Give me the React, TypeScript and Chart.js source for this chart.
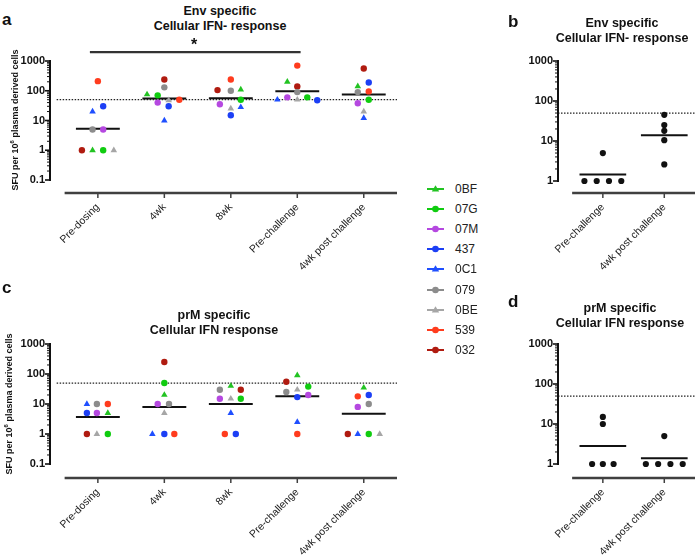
import React, { useEffect, useRef } from "react";
import { Chart, registerables } from "chart.js";

Chart.register(...registerables);

const FONT = '"Liberation Sans", Arial, Helvetica, sans-serif';

// ---------- categories ----------
const timepoints = ["Pre-dosing", "4wk", "8wk", "Pre-challenge", "4wk post challenge"];
const challengeTimepoints = ["Pre-challenge", "4wk post challenge"];
const animals = ["0BF", "07G", "07M", "437", "0C1", "079", "0BE", "539", "032"];
const animalColors = ["#22c322", "#10cc10", "#b548e0", "#1c3ff5", "#1f4fff", "#8c8c8c", "#a6a6a6", "#ff3c1e", "#b01b10"];
const animalShapes = ["triangle", "circle", "circle", "circle", "triangle", "circle", "triangle", "circle", "circle"];

// ---------- panel a: Env specific (values per animal across timepoints) ----------
const env0BF = [1, 75, 110, 200, 140];
const env07G = [1, 70, 50, 60, 50];
const env07M = [5, 40, 35, 60, 38];
const env437 = [30, 30, 15, 48, 190];
const env0C1 = [20, 10, 28, 50, 12];
const env079 = [5, 130, 100, 90, 90];
const env0BE = [1, 48, 25, 50, 20];
const env539 = [210, 50, 240, 700, 95];
const env032 = [1, 240, 105, 140, 560];
const envMeans = [5.3, 55, 56, 97, 75];

// ---------- panel c: prM specific ----------
const prm0BF = [5, 20, 40, 90, 35];
const prm07G = [1, 50, 15, 38, 1];
const prm07M = [5, 10, 15, 20, 8];
const prm437 = [5, 1, 1, 17, 20];
const prm0C1 = [10, 1, 5, 2.5, 1];
const prm079 = [10, 10, 30, 25, 10];
const prm0BE = [1, 5, 15, 30, 1];
const prm539 = [10, 1, 1, 1, 18];
const prm032 = [1, 250, 30, 55, 1];
const prmMeans = [3.7, 8, 10, 18, 4.7];

// ---------- panels b / d: challenge group ----------
const envChallengePre = [1, 1, 1, 1, 5];
const envChallengePost = [45, 25, 18, 10.5, 2.6];
const envChallengeMeans = [1.45, 14];
const prmChallengePre = [15, 10, 1, 1, 1];
const prmChallengePost = [5, 1, 1, 1, 1];
const prmChallengeMeans = [2.8, 1.4];

const threshold = 50;
const significanceLevel = 2000;
const yTicksMain = [0.1, 1, 10, 100, 1000];
const yTicksChallenge = [1, 10, 100, 1000];

// ---------- layout: horizontal scatter offsets (category units) ----------
const envJitter = [
  [-0.08, 0.08, 0.08, 0.08, -0.08, -0.08, 0.24, 0, -0.24],
  [-0.26, -0.1, -0.1, 0.065, 0, 0, 0.065, 0.225, 0],
  [0.15, 0.15, -0.165, 0, 0.15, 0, 0, 0, -0.2],
  [-0.15, 0.15, -0.15, 0.3, -0.3, 0, 0, 0, 0],
  [-0.09, 0.075, -0.09, 0.075, 0, -0.09, 0, 0.075, 0],
];
const prmJitter = [
  [0.15, 0.15, -0.015, -0.165, -0.165, -0.015, -0.015, 0.15, -0.165],
  [0, 0, -0.1, 0, -0.18, 0.07, 0, 0.15, 0],
  [0, 0.15, -0.165, 0.075, 0, -0.165, 0, -0.09, 0.15],
  [0, 0.165, 0.165, 0, 0, -0.165, 0, 0, -0.165],
  [0, 0.075, -0.09, 0.075, -0.09, 0.075, 0.24, -0.09, -0.24],
];
const envChalJitter = [[-0.3, -0.1, 0.1, 0.3, 0], [0, 0, 0, 0, 0]];
const prmChalJitter = [[0, 0, -0.175, 0, 0.175], [0, -0.3, -0.1, 0.1, 0.3]];

// ---------- helpers ----------
function groupDatasets(series: number[][], jitter: number[][]) {
  return animals.map((name, a) => ({
    label: name,
    data: series[a].map((v, t) => ({ x: t + jitter[t][a], y: v })),
    pointStyle: animalShapes[a],
    pointRadius: animalShapes[a] === "triangle" ? 3.8 : 3.2,
    backgroundColor: animalColors[a],
    borderColor: animalColors[a],
    borderWidth: 0,
    showLine: false,
  }));
}

function blackDots(pre: number[], post: number[], jitter: number[][]) {
  return {
    label: "animals",
    data: [
      ...pre.map((v, i) => ({ x: 0 + jitter[0][i], y: v })),
      ...post.map((v, i) => ({ x: 1 + jitter[1][i], y: v })),
    ],
    pointStyle: "circle",
    pointRadius: 3.1,
    backgroundColor: "#111",
    borderColor: "#111",
    borderWidth: 0,
    showLine: false,
  };
}

function meanLines(means: number[], half: number) {
  const pts: any[] = [];
  means.forEach((m, t) => {
    pts.push({ x: t - half, y: m }, { x: t + half, y: m }, { x: t + half, y: null });
  });
  return {
    label: "mean",
    data: pts,
    showLine: true,
    spanGaps: false,
    borderColor: "#111",
    borderWidth: 2,
    pointRadius: 0,
    borderCapStyle: "butt",
  };
}

function hLine(from: number, to: number, y: number, extra: any) {
  return {
    label: "line",
    data: [{ x: from, y }, { x: to, y }],
    showLine: true,
    pointRadius: 0,
    ...extra,
  };
}

type PanelSpec = {
  left: number;
  top: number;
  w: number;
  h: number;
  areaLeft: number;
  areaTop: number;
  areaRight: number;
  areaBottom: number;
  labels: string[];
  xMin: number;
  xMax: number;
  yMin: number;
  yMax: number;
  yTicks: number[];
  datasets: any[];
};

function makeAxesPlugin(s: PanelSpec) {
  const yFrom = s.yTicks[0];
  const yTo = s.yTicks[s.yTicks.length - 1];
  const count = s.labels.length;
  return {
    id: "gpAxes",
    afterDraw(chart: any) {
      const { ctx, chartArea } = chart;
      const x = chart.scales.x;
      const y = chart.scales.y;
      const line = (x1: number, y1: number, x2: number, y2: number) => {
        ctx.beginPath();
        ctx.moveTo(x1, y1);
        ctx.lineTo(x2, y2);
        ctx.stroke();
      };
      ctx.save();
      ctx.setLineDash([]);
      ctx.lineCap = "butt";
      const ax = x.getPixelForValue(s.xMin);
      const yT = y.getPixelForValue(yTo);
      const yB = y.getPixelForValue(yFrom);
      ctx.strokeStyle = "#111";
      ctx.lineWidth = 2;
      line(ax, yT - 1, ax, yB + 1);
      const k0 = Math.round(Math.log10(yFrom));
      const k1 = Math.round(Math.log10(yTo));
      for (let k = k0; k <= k1; k++) {
        const d = Math.pow(10, k);
        const py = y.getPixelForValue(d);
        ctx.lineWidth = 1.6;
        line(ax - 5, py, ax, py);
        if (k < k1) {
          ctx.lineWidth = 1;
          for (let m = 2; m <= 9; m++) {
            const pm = y.getPixelForValue(d * m);
            line(ax - 3, pm, ax, pm);
          }
        }
      }
      ctx.strokeStyle = "#404040";
      ctx.lineWidth = 2.5;
      const b = chartArea.bottom;
      line(x.getPixelForValue(-0.5), b, x.getPixelForValue(count - 0.5), b);
      ctx.lineWidth = 1.5;
      for (let i = 0; i < count; i++) {
        const px = x.getPixelForValue(i);
        line(px, b, px, b + 5);
      }
      ctx.restore();
    },
  };
}

function buildConfig(s: PanelSpec): any {
  return {
    type: "scatter",
    data: { datasets: s.datasets },
    options: {
      responsive: false,
      animation: false,
      events: [],
      layout: { padding: { left: 0, top: s.areaTop, right: s.w - s.areaRight, bottom: 0 } },
      plugins: {
        legend: { display: false },
        tooltip: { enabled: false },
        title: { display: false },
      },
      scales: {
        x: {
          type: "linear",
          min: s.xMin,
          max: s.xMax,
          bounds: "data",
          grid: { display: false, drawTicks: false, tickLength: 0 },
          border: { display: false },
          afterBuildTicks: (sc: any) => {
            sc.ticks = s.labels.map((_, i) => ({ value: i }));
          },
          afterFit: (sc: any) => {
            sc.height = s.h - s.areaBottom;
          },
          ticks: {
            autoSkip: false,
            minRotation: 45,
            maxRotation: 45,
            padding: 8,
            color: "#222",
            font: { family: FONT, size: 10.5 },
            callback: (v: any) => s.labels[Math.round(Number(v))] ?? "",
          },
        },
        y: {
          type: "logarithmic",
          min: s.yMin,
          max: s.yMax,
          bounds: "data",
          grid: { display: false, drawTicks: false, tickLength: 0 },
          border: { display: false },
          afterBuildTicks: (sc: any) => {
            sc.ticks = s.yTicks.map((v) => ({ value: v }));
          },
          afterFit: (sc: any) => {
            sc.width = s.areaLeft;
          },
          ticks: {
            autoSkip: false,
            padding: 5,
            color: "#111",
            font: { family: FONT, size: 11, weight: "bold" },
            callback: (v: any) => String(v),
          },
        },
      },
    },
    plugins: [makeAxesPlugin(s)],
  };
}

function Panel(props: { spec: PanelSpec }) {
  const ref = useRef<HTMLCanvasElement>(null);
  const s = props.spec;
  useEffect(() => {
    const chart = new Chart(ref.current as HTMLCanvasElement, buildConfig(s));
    return () => chart.destroy();
  }, []);
  return (
    <canvas
      ref={ref}
      width={s.w}
      height={s.h}
      style={{ position: "absolute", left: s.left, top: s.top, width: s.w, height: s.h }}
    />
  );
}

function Title(props: { cx: number; top: number; lines: string[] }) {
  return (
    <div
      style={{
        position: "absolute",
        left: props.cx - 110,
        top: props.top,
        width: 220,
        textAlign: "center",
        font: `bold 12.5px ${FONT}`,
        lineHeight: "15px",
        color: "#111",
        whiteSpace: "nowrap",
      }}
    >
      {props.lines.map((l, i) => (
        <div key={i}>{l}</div>
      ))}
    </div>
  );
}

function Letter(props: { left: number; top: number; text: string }) {
  return (
    <div
      style={{
        position: "absolute",
        left: props.left,
        top: props.top,
        font: `bold 17px ${FONT}`,
        lineHeight: "17px",
        color: "#111",
      }}
    >
      {props.text}
    </div>
  );
}

function YLabel(props: { cx: number; cy: number }) {
  return (
    <div
      style={{
        position: "absolute",
        left: props.cx,
        top: props.cy,
        transform: "translate(-50%, -50%) rotate(-90deg)",
        font: `bold 9px ${FONT}`,
        lineHeight: "10px",
        color: "#111",
        whiteSpace: "nowrap",
      }}
    >
      SFU per 10<span style={{ fontSize: "6px", verticalAlign: "4px" }}>6</span> plasma derived cells
    </div>
  );
}

function Legend() {
  return (
    <>
      {animals.map((name, a) => {
        const cy = 189 + a * 20.1;
        const c = animalColors[a];
        return (
          <div
            key={name}
            style={{ position: "absolute", left: 424, top: cy - 8, height: 16, display: "flex", alignItems: "center" }}
          >
            <svg width={22} height={16} style={{ display: "block" }}>
              <line x1={3} y1={8} x2={20} y2={8} stroke={c} strokeWidth={2} />
              {animalShapes[a] === "triangle" ? (
                <polygon points="11.5,4.3 15.2,10.6 7.8,10.6" fill={c} />
              ) : (
                <circle cx={11.5} cy={8} r={3.3} fill={c} />
              )}
            </svg>
            <span style={{ marginLeft: 9, font: `12px ${FONT}`, color: "#222", lineHeight: "16px" }}>{name}</span>
          </div>
        );
      })}
    </>
  );
}

export default function App() {
  const envSeries = [env0BF, env07G, env07M, env437, env0C1, env079, env0BE, env539, env032];
  const prmSeries = [prm0BF, prm07G, prm07M, prm437, prm0C1, prm079, prm0BE, prm539, prm032];

  const specA: PanelSpec = {
    left: 0, top: 40, w: 410, h: 250,
    areaLeft: 50, areaTop: 21, areaRight: 397, areaBottom: 153,
    labels: timepoints,
    xMin: -0.72, xMax: 4.5,
    yMin: Math.pow(10, -1 - 13 / 29.75), yMax: 1000,
    yTicks: yTicksMain,
    datasets: [
      ...groupDatasets(envSeries, envJitter),
      meanLines(envMeans, 0.33),
      hLine(-0.62, 4.5, threshold, { borderColor: "#222", borderWidth: 1.2, borderDash: [1.5, 1.5] }),
      hLine(-0.12, 3.05, significanceLevel, { borderColor: "#333", borderWidth: 2.2, clip: false }),
    ],
  };
  const specC: PanelSpec = {
    left: 0, top: 323, w: 410, h: 234,
    areaLeft: 50, areaTop: 21, areaRight: 397, areaBottom: 155,
    labels: timepoints,
    xMin: -0.72, xMax: 4.5,
    yMin: Math.pow(10, -1 - 14 / 30), yMax: 1000,
    yTicks: yTicksMain,
    datasets: [
      ...groupDatasets(prmSeries, prmJitter),
      meanLines(prmMeans, 0.33),
      hLine(-0.62, 4.5, threshold, { borderColor: "#222", borderWidth: 1.2, borderDash: [1.5, 1.5] }),
    ],
  };
  const specB: PanelSpec = {
    left: 500, top: 40, w: 199, h: 250,
    areaLeft: 58, areaTop: 21, areaRight: 198, areaBottom: 153,
    labels: challengeTimepoints,
    xMin: -0.73, xMax: 1.5,
    yMin: Math.pow(10, -0.3), yMax: 1000,
    yTicks: yTicksChallenge,
    datasets: [
      blackDots(envChallengePre, envChallengePost, envChalJitter),
      meanLines(envChallengeMeans, 0.38),
      hLine(-0.73, 1.5, threshold, { borderColor: "#222", borderWidth: 1.2, borderDash: [1.5, 1.5] }),
    ],
  };
  const specD: PanelSpec = {
    left: 500, top: 323, w: 199, h: 234,
    areaLeft: 58, areaTop: 21, areaRight: 198, areaBottom: 155,
    labels: challengeTimepoints,
    xMin: -0.73, xMax: 1.5,
    yMin: Math.pow(10, -0.35), yMax: 1000,
    yTicks: yTicksChallenge,
    datasets: [
      blackDots(prmChallengePre, prmChallengePost, prmChalJitter),
      meanLines(prmChallengeMeans, 0.38),
      hLine(-0.73, 1.5, threshold, { borderColor: "#222", borderWidth: 1.2, borderDash: [1.5, 1.5] }),
    ],
  };

  return (
    <div
      style={{
        position: "absolute",
        left: 0,
        top: 0,
        width: 699,
        height: 557,
        overflow: "hidden",
        background: "#fff",
      }}
    >
      <Panel spec={specA} />
      <Panel spec={specB} />
      <Panel spec={specC} />
      <Panel spec={specD} />
      <Title cx={220} top={3.5} lines={["Env specific", "Cellular IFN- response"]} />
      <Title cx={622} top={15.5} lines={["Env specific", "Cellular IFN- response"]} />
      <Title cx={214} top={307.5} lines={["prM specific", "Cellular IFN response"]} />
      <Title cx={620} top={300.5} lines={["prM specific", "Cellular IFN response"]} />
      <Letter left={2} top={10.5} text="a" />
      <Letter left={508} top={12.5} text="b" />
      <Letter left={2} top={278.5} text="c" />
      <Letter left={508} top={292.5} text="d" />
      <div
        style={{
          position: "absolute",
          left: 191,
          top: 37,
          font: `bold 16px ${FONT}`,
          lineHeight: "16px",
          color: "#111",
        }}
      >
        *
      </div>
      <YLabel cx={13} cy={120} />
      <YLabel cx={7} cy={404} />
      <Legend />
    </div>
  );
}
